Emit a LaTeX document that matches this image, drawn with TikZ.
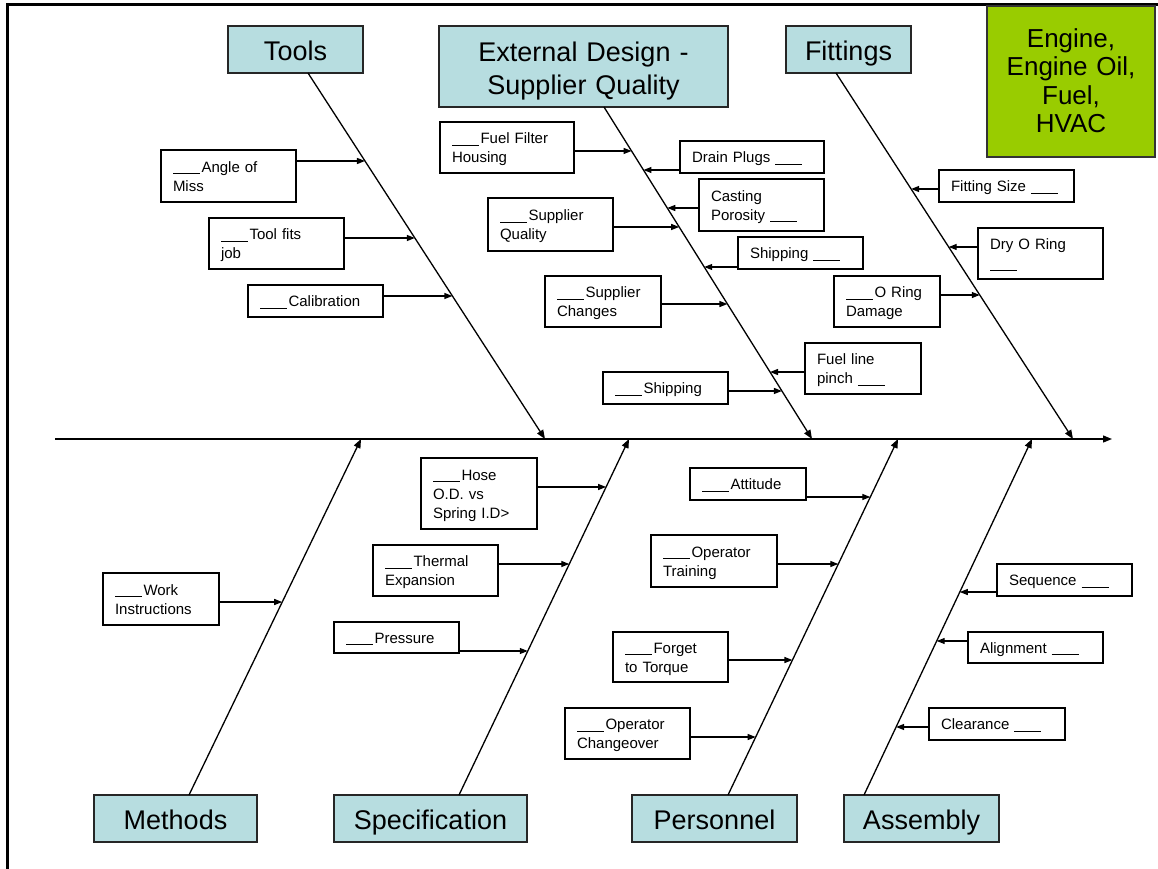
\documentclass[tikz,border=0pt]{standalone}
\usepackage{fontspec}
\setmainfont{Liberation Sans}
\usetikzlibrary{arrows.meta,calc}
\definecolor{catblue}{RGB}{183,221,224}
\definecolor{limegreen}{RGB}{153,204,0}
\newcommand\blank{\rule[-0.15em]{1.8em}{0.09em}}
\newcommand\blankpre{\blank\kern1.5pt}
\newcommand\topstrut[1]{\rule{0pt}{#1}}
\newcommand\botstrut[1]{\rule[-#1]{0pt}{#1}}
\newcommand\placebox[7]{%
  \pgfmathsetmacro\cbw{#5-#3}\pgfmathsetmacro\cbh{#6-#4}\pgfmathsetmacro\cbt{#5-#3-24}%
  \pgfmathsetmacro\cbx{(#3+#5)/2}\pgfmathsetmacro\cby{(#4+#6)/2}%
  \node[#1, minimum width=\cbw pt, minimum height=\cbh pt, text width=\cbt pt] (#2) at (\cbx,\cby) {#7};}
\begin{document}
\begin{tikzpicture}[x=1pt,y=-1pt,
  boxtext/.style={inner xsep=12pt, inner ysep=0pt},
  cat/.style={boxtext, execute at begin node=\topstrut{28.1pt}, execute at end node=\botstrut{5.8pt},
    draw=black!85, line width=1.3pt, fill=catblue, font=\fontsize{27}{33}\selectfont, align=center},
  eng/.style={boxtext, execute at begin node=\topstrut{22.2pt}, execute at end node=\botstrut{5.6pt},
    draw=black!80, line width=1.3pt, fill=limegreen, font=\fontsize{26}{28.5}\selectfont, align=center},
  cause/.style={boxtext, execute at begin node=\topstrut{14.6pt}, execute at end node=\botstrut{3.3pt},
    draw, line width=1.2pt, fill=white, font=\fontsize{15}{19}\selectfont, align=left},
  bone/.style={line width=1.3pt, -{Triangle[length=9pt,width=7pt]}},
  arr/.style={line width=1.2pt, -{Triangle[length=8pt,width=6pt]}},
  frame/.style={line width=3pt}]
\useasboundingbox (0,0) rectangle (1158,869);
\draw[frame] (7,869) -- (7,5) -- (1158,5);

% category boxes
\placebox{cat}{tools}{228}{26}{363}{73}{Tools}
\placebox{cat}{ext}{439}{26}{728}{107}{External Design -\\Supplier Quality}
\placebox{cat}{fit}{786}{26}{911}{73}{Fittings}
\placebox{eng}{eng}{987}{6}{1155}{157}{Engine,\\Engine Oil,\\Fuel,\\HVAC}
\placebox{cat}{meth}{94}{795}{257}{842}{Methods}
\placebox{cat}{spec}{334}{795}{527}{842}{Specification}
\placebox{cat}{pers}{632}{795}{797}{842}{Personnel}
\placebox{cat}{asm}{844}{795}{999}{842}{Assembly}

% spine and bones
\coordinate (sp0) at (55,439);
\coordinate (sp1) at (1112,439);
\draw[bone] (sp0) -- (sp1);
\coordinate (T0) at (308,73);  \coordinate (T1) at (545,439);
\coordinate (E0) at (604,107); \coordinate (E1) at (812,439);
\coordinate (F0) at (836,73);  \coordinate (F1) at (1073,439);
\coordinate (M0) at (189,795); \coordinate (M1) at (361,439);
\coordinate (S0) at (459,795); \coordinate (S1) at (629,439);
\coordinate (P0) at (728,795); \coordinate (P1) at (898,439);
\coordinate (A0) at (864,795); \coordinate (A1) at (1032,439);
\foreach \a/\b in {T0/T1,E0/E1,F0/F1,M0/M1,S0/S1,P0/P1,A0/A1}{\draw[bone] (\a) -- (\b);}

% cause boxes
\placebox{cause}{a1}{161}{150}{296}{202}{\blankpre Angle of\\Miss}
\placebox{cause}{a2}{209}{218}{344}{269}{\blankpre Tool fits\\job}
\placebox{cause}{a3}{248}{285}{383}{317}{\blankpre Calibration}
\placebox{cause}{b1}{440}{122}{574}{173}{\blankpre Fuel Filter\\Housing}
\placebox{cause}{b2}{680}{141}{824}{173}{Drain Plugs \blank}
\placebox{cause}{b3}{699}{179}{824}{231}{Casting\\Porosity \blank}
\placebox{cause}{b4}{488}{198}{613}{251}{\blankpre Supplier\\Quality}
\placebox{cause}{b5}{738}{237}{863}{269}{Shipping \blank}
\placebox{cause}{b6}{545}{276}{661}{327}{\blankpre Supplier\\Changes}
\placebox{cause}{b7}{805}{343}{921}{394}{Fuel line\\pinch \blank}
\placebox{cause}{b8}{603}{372}{728}{404}{\blankpre Shipping}
\placebox{cause}{c1}{939}{170}{1074}{202}{Fitting Size \blank}
\placebox{cause}{c2}{978}{228}{1103}{279}{Dry O Ring\\\blank}
\placebox{cause}{c3}{834}{276}{940}{327}{\blankpre O Ring\\Damage}
\placebox{cause}{d1}{103}{573}{219}{625}{\blankpre Work\\Instructions}
\placebox{cause}{d2}{421}{458}{537}{529}{\blankpre Hose\\O.D. vs\\Spring I.D>}
\placebox{cause}{d3}{373}{545}{498}{596}{\blankpre Thermal\\Expansion}
\placebox{cause}{d4}{334}{622}{459}{653}{\blankpre Pressure}
\placebox{cause}{e1}{690}{468}{806}{500}{\blankpre Attitude}
\placebox{cause}{e2}{651}{535}{777}{587}{\blankpre Operator\\Training}
\placebox{cause}{e3}{613}{632}{728}{682}{\blankpre Forget\\to Torque}
\placebox{cause}{e4}{565}{708}{690}{759}{\blankpre Operator\\Changeover}
\placebox{cause}{f1}{997}{564}{1132}{596}{Sequence \blank}
\placebox{cause}{f2}{968}{632}{1103}{663}{Alignment \blank}
\placebox{cause}{f3}{929}{708}{1065}{740}{Clearance \blank}

% cause arrows
\foreach \n/\t/\s in {a1/0.2404/east,a2/0.4508/east,a3/0.6093/east}
  {\coordinate (\n-t) at ($(T0)!\t!(T1)$); \draw[arr] (\n.\s |- \n-t) -- (\n-t);}
\foreach \n/\t/\s in {b1/0.1325/east,b2/0.1898/west,b3/0.3042/west,b4/0.3614/east,b5/0.4819/west,b6/0.5934/east,b7/0.7982/west,b8/0.8554/east}
  {\coordinate (\n-t) at ($(E0)!\t!(E1)$); \draw[arr] (\n.\s |- \n-t) -- (\n-t);}
\foreach \n/\t/\s in {c1/0.3169/west,c2/0.4754/west,c3/0.6066/east}
  {\coordinate (\n-t) at ($(F0)!\t!(F1)$); \draw[arr] (\n.\s |- \n-t) -- (\n-t);}
\foreach \n/\t/\s in {d1/0.5421/east}
  {\coordinate (\n-t) at ($(M0)!\t!(M1)$); \draw[arr] (\n.\s |- \n-t) -- (\n-t);}
\foreach \n/\t/\s in {d2/0.8652/east,d3/0.6489/east,d4/0.4045/east}
  {\coordinate (\n-t) at ($(S0)!\t!(S1)$); \draw[arr] (\n.\s |- \n-t) -- (\n-t);}
\foreach \n/\t/\s in {e1/0.8371/east,e2/0.6489/east,e3/0.3792/east,e4/0.1629/east}
  {\coordinate (\n-t) at ($(P0)!\t!(P1)$); \draw[arr] (\n.\s |- \n-t) -- (\n-t);}
\foreach \n/\t/\s in {f1/0.5702/west,f2/0.4326/west,f3/0.1910/west}
  {\coordinate (\n-t) at ($(A0)!\t!(A1)$); \draw[arr] (\n.\s |- \n-t) -- (\n-t);}
\end{tikzpicture}
\end{document}
